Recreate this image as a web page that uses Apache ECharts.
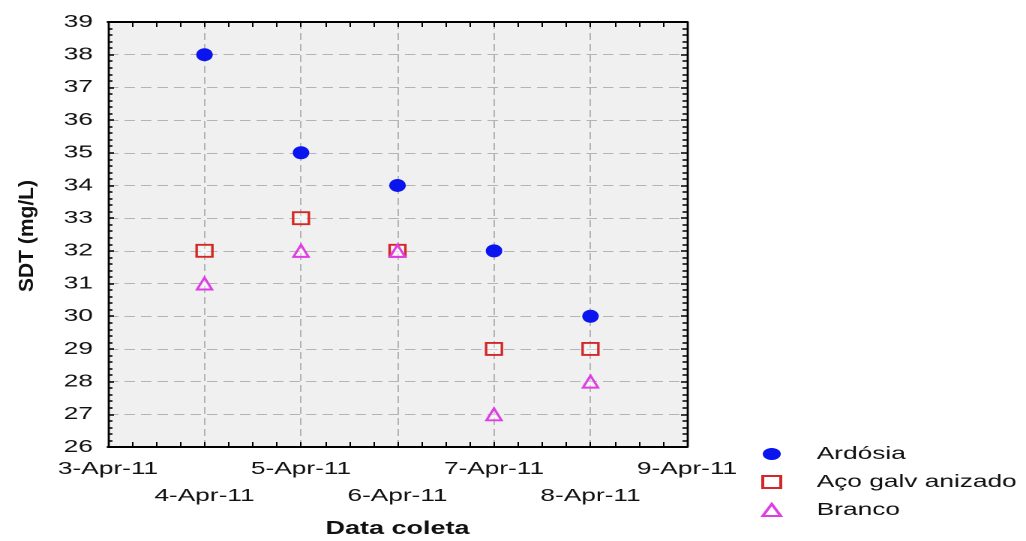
<!DOCTYPE html>
<html>
<head>
<meta charset="utf-8">
<script src="https://cdn.jsdelivr.net/npm/echarts@6/dist/echarts.min.js"></script>
<style>
  html, body { margin: 0; padding: 0; background: #ffffff; overflow: hidden; }
  /* the figure is laid out narrow and widened 1.5x, like the exported graph */
  #chart { width: 684px; height: 541px; transform: scaleX(1.5); transform-origin: 0 0; }
</style>
</head>
<body>
<div id="chart"></div>
<script>
// Collection dates (April 2011)
const dates = ['2011-04-04', '2011-04-05', '2011-04-06', '2011-04-07', '2011-04-08'];

// Total dissolved solids per roof material (mg/L)
const ardosia = [38, 35, 34, 32, 30];
const acoGalvanizado = [32, 33, 32, 29, 29];
const branco = [31, 32, 32, 27, 28];

const seriesNames = ['Ardósia', 'Aço galv anizado', 'Branco'];

const STRETCH = 1.5;
const DAY = 86400000;
const toTs = s => Date.parse(s + 'T00:00:00Z');
const pairs = vals => dates.map((d, i) => [toTs(d), vals[i]]);

const xMin = Date.UTC(2011, 3, 3);
const xMax = Date.UTC(2011, 3, 9);

const font = 'Arial, "Liberation Sans", sans-serif';
const gridLine = { show: true, lineStyle: { color: '#b4b4b4', type: [7, 4], width: 1 } };

// date labels alternate between two rows: odd days on the first, even days on the second
const dayText = v => new Date(v).getUTCDate() + '-Apr-11';
const oddDayLabel = v => (new Date(v).getUTCDate() % 2 === 1) ? dayText(v) : '';
const evenDayLabel = v => (new Date(v).getUTCDate() % 2 === 0) ? dayText(v) : '';

const chart = echarts.init(document.getElementById('chart'), null, { renderer: 'canvas', devicePixelRatio: 2 });

const xAxisBase = {
  type: 'value', min: xMin, max: xMax, interval: DAY,
  axisLine: { show: true, lineStyle: { color: '#000', width: 2 } },
  axisTick: { show: true, inside: true, length: 5, lineStyle: { color: '#000', width: 1 } },
  minorTick: { show: true, splitNumber: 4, length: 5, lineStyle: { color: '#000', width: 1 } }
};
const yAxisBase = {
  type: 'value', min: 26, max: 39, interval: 1,
  axisLine: { show: true, lineStyle: { color: '#000', width: 1.4 } },
  axisTick: { show: true, inside: true, length: 4, lineStyle: { color: '#000', width: 1.5 } },
  minorTick: { show: true, splitNumber: 5, length: 3, lineStyle: { color: '#000', width: 1.5 } }
};
const labelText = { fontFamily: font, fontSize: 17.5, color: '#111' };

chart.setOption({
  backgroundColor: '#ffffff',
  animation: false,
  grid: {
    left: 72, right: 226, top: 22, bottom: 94,
    outerBoundsMode: 'none', containLabel: false,
    show: true, backgroundColor: '#f0f0f0', borderWidth: 0
  },
  legend: {
    orient: 'vertical',
    left: 502.5, top: 440,
    itemWidth: 12, itemHeight: 12, itemGap: 10,
    textStyle: { fontFamily: font, fontSize: 17.5, color: '#111', padding: [0, 0, 0, 19] },
    data: seriesNames
  },
  graphic: [{
    type: 'text',
    x: 18, y: 236,
    rotation: Math.PI / 2,
    scaleY: 1 / STRETCH,
    style: {
      text: 'SDT (mg/L)', fontFamily: font, fontSize: 21, fontWeight: 'bold',
      fill: '#111', align: 'center', verticalAlign: 'middle'
    }
  }],
  xAxis: [Object.assign({}, xAxisBase, {
    position: 'bottom',
    name: 'Data coleta', nameLocation: 'middle', nameGap: 73,
    nameTextStyle: { fontFamily: font, fontSize: 18, fontWeight: 'bold', color: '#111' },
    axisLabel: Object.assign({ formatter: oddDayLabel, margin: 13, showMinLabel: true, showMaxLabel: true }, labelText),
    splitLine: gridLine
  }), Object.assign({}, xAxisBase, {
    position: 'top',
    axisLabel: { show: false },
    splitLine: { show: false }
  }), {
    type: 'value', min: xMin, max: xMax, interval: DAY,
    position: 'bottom',
    axisLine: { show: false }, axisTick: { show: false }, splitLine: { show: false },
    axisLabel: Object.assign({ formatter: evenDayLabel, margin: 40 }, labelText)
  }],
  yAxis: [Object.assign({}, yAxisBase, {
    position: 'left',
    axisLabel: Object.assign({ margin: 10 }, labelText),
    splitLine: gridLine
  }), Object.assign({}, yAxisBase, {
    position: 'right',
    axisLabel: { show: false },
    splitLine: { show: false }
  })],
  series: [{
    name: seriesNames[0], type: 'scatter',
    symbol: 'circle', symbolSize: [11, 13],
    itemStyle: { color: '#0a14ee', opacity: 1 },
    data: pairs(ardosia), z: 3
  }, {
    name: seriesNames[1], type: 'scatter',
    symbol: 'rect', symbolSize: [10.5, 12],
    itemStyle: { color: 'rgba(255,255,255,0.35)', borderColor: '#d42828', borderWidth: 1.8, opacity: 1 },
    data: pairs(acoGalvanizado), z: 4
  }, {
    name: seriesNames[2], type: 'scatter',
    symbol: 'triangle', symbolSize: [10, 12],
    itemStyle: { color: 'rgba(255,255,255,0.35)', borderColor: '#e03ce6', borderWidth: 1.8, opacity: 1 },
    data: pairs(branco), z: 5
  }]
});
</script>
</body>
</html>
